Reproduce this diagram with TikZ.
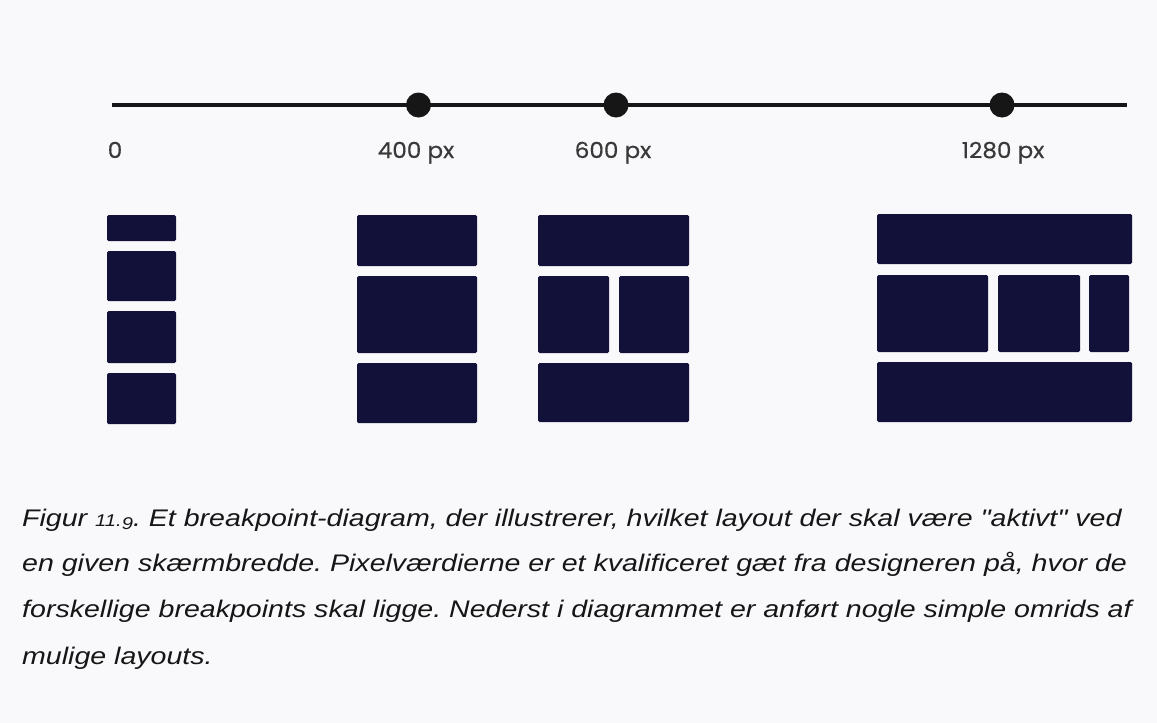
\documentclass[tikz,border=0pt]{standalone}
\usepackage{fontspec}
\setmainfont{Liberation Sans}
\newfontfamily\labelfont{Poppins}[FakeStretch=1.05,FakeBold=0.5]
\newfontfamily\capfont{Liberation Sans}[FakeStretch=1.19]
\definecolor{navy}{RGB}{18,17,58}
\definecolor{bg}{RGB}{249,248,250}
\definecolor{ink}{RGB}{22,22,22}
\frenchspacing
\begin{document}
\begin{tikzpicture}[x=1pt,y=-1pt,
  blk/.style={fill=navy, rounded corners=1.5pt},
  bpdot/.style={circle, fill=ink, inner sep=0pt, minimum size=25pt},
  ticklabel/.style={font=\labelfont\fontsize{22}{22}\selectfont, text=ink!85, anchor=base, inner sep=0pt},
  captext/.style={font=\capfont\itshape\fontsize{24}{24}\selectfont, text=ink, anchor=base west, inner sep=0pt}]
\fill[bg] (0,0) rectangle (1157,723);
\useasboundingbox (0,0) rectangle (1157,723);
% timeline
\coordinate (L) at (112,105);
\coordinate (R) at (1127,105);
\draw[line width=3.8pt, ink] (L) -- (R);
\node[bpdot] (d400) at (418.5,105) {};
\node[bpdot] (d600) at (616,105) {};
\node[bpdot] (d1280) at (1002,105) {};
\node[ticklabel] (t0) at (115,158) {0};
\node[ticklabel] (t400) at (416,158) {400 px};
\node[ticklabel] (t600) at (613,158) {600 px};
\node[ticklabel] (t1280) at (1003,158) {1280 px};
% layout 0
\fill[blk] (107,215) rectangle (176,241);
\fill[blk] (107,251) rectangle (176,301);
\fill[blk] (107,311) rectangle (176,363);
\fill[blk] (107,373) rectangle (176,424);
% layout 400
\fill[blk] (357,215) rectangle (477,266);
\fill[blk] (357,276) rectangle (477,353);
\fill[blk] (357,363) rectangle (477,423);
% layout 600
\fill[blk] (538,215) rectangle (689,266);
\fill[blk] (538,276) rectangle (609,353);
\fill[blk] (619,276) rectangle (689,353);
\fill[blk] (538,363) rectangle (689,422);
% layout 1280
\fill[blk] (877,214) rectangle (1132,264);
\fill[blk] (877,275) rectangle (988,352);
\fill[blk] (998,275) rectangle (1080,352);
\fill[blk] (1089,275) rectangle (1129,352);
\fill[blk] (877,362) rectangle (1132,422);
% caption
\node[captext] (c1) at (22,526) {Figur {\fontsize{17}{17}\selectfont 11.\raisebox{-3.5pt}{9}}. Et breakpoint-diagram, der illustrerer, hvilket layout der skal være \char34 aktivt\char34\ ved};
\node[captext] (c2) at (22,571) {en given skærmbredde. Pixelværdierne er et kvalificeret gæt fra designeren på, hvor de};
\node[captext] (c3) at (22,617) {forskellige breakpoints skal ligge. Nederst i diagrammet er anført nogle simple omrids af};
\node[captext] (c4) at (22,664) {mulige layouts.};
\end{tikzpicture}
\end{document}
